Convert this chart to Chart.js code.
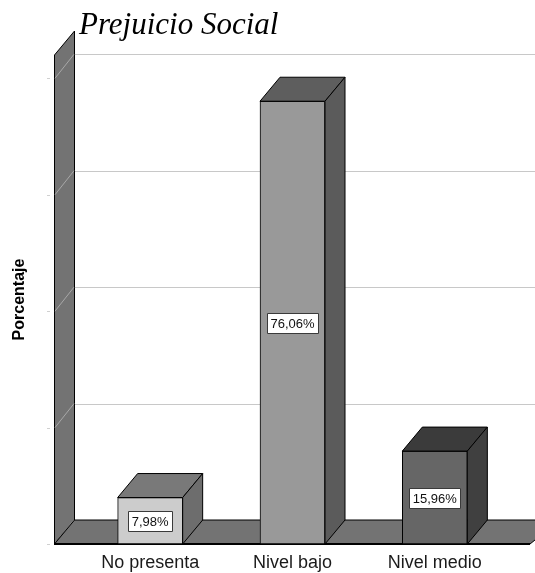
<!DOCTYPE html>
<html>
<head>
<meta charset="utf-8">
<title>Prejuicio Social</title>
<script src="https://cdn.jsdelivr.net/npm/chart.js@4.4.1/dist/chart.umd.min.js"></script>
<style>
  html, body { margin: 0; padding: 0; background: #ffffff; }
  #wrap { width: 535px; height: 573px; }
</style>
</head>
<body>
<div id="wrap"><canvas id="chart" width="535" height="573"></canvas></div>
<script>
// Categories and percentages of the "Prejuicio Social" distribution
const categories = ['No presenta', 'Nivel bajo', 'Nivel medio'];
const percentages = [7.98, 76.06, 15.96];
// Value axis: gridline positions (labels are not printed) and upper bound
const gridValues = [0, 20, 40, 60, 80];
const axisMax = 84;

// Shading for each bar: front, top and side faces
const frontColors = ['#cccccc', '#999999', '#666666'];
const topColors = ['#797979', '#5e5e5e', '#3b3b3b'];
const sideColors = ['#6d6d6d', '#5b5b5b', '#404040'];

// Oblique depth of the 3D effect
const DEPTH_X = 20;
const DEPTH_Y = 24;
const WALL_FILL = '#737373';
const SANS = '"Liberation Sans", Arial, Helvetica, sans-serif';
const SERIF = '"Liberation Serif", "Times New Roman", Times, serif';

function pctText(v) {
  return v.toFixed(2).replace('.', ',') + '%';
}

// Draws the 3D frame (back wall gridlines, left wall, floor) behind the bars
// and the top/side faces, value boxes and the chart title in front.
const frame3d = {
  id: 'frame3d',
  beforeDatasetsDraw(chart) {
    const { ctx, chartArea: area, scales } = chart;
    const ys = scales.y;
    const wallX = area.left - 25;
    const floorRight = area.right + 24;
    ctx.save();

    // Gridlines on the back plane
    ctx.strokeStyle = '#c8c8c8';
    ctx.lineWidth = 1;
    gridValues.forEach(v => {
      if (v === 0) return;
      const yb = Math.round(ys.getPixelForValue(v) - DEPTH_Y) + 0.5;
      ctx.beginPath();
      ctx.moveTo(wallX + DEPTH_X, yb);
      ctx.lineTo(chart.width, yb);
      ctx.stroke();
    });

    // Left wall
    ctx.beginPath();
    ctx.moveTo(wallX + 0.5, area.bottom);
    ctx.lineTo(wallX + 0.5, area.top);
    ctx.lineTo(wallX + DEPTH_X + 0.5, area.top - DEPTH_Y);
    ctx.lineTo(wallX + DEPTH_X + 0.5, area.bottom - DEPTH_Y);
    ctx.closePath();
    ctx.fillStyle = WALL_FILL;
    ctx.fill();
    ctx.strokeStyle = '#000000';
    ctx.stroke();

    // Gridlines continue diagonally across the wall; small ticks on its front edge
    gridValues.forEach(v => {
      const yf = ys.getPixelForValue(v);
      ctx.strokeStyle = '#a8a8a8';
      ctx.beginPath();
      ctx.moveTo(wallX + 1, yf);
      ctx.lineTo(wallX + DEPTH_X, yf - DEPTH_Y);
      ctx.stroke();
      ctx.strokeStyle = '#d0d0d0';
      ctx.beginPath();
      ctx.moveTo(wallX - 7, Math.round(yf) + 0.5);
      ctx.lineTo(wallX - 4, Math.round(yf) + 0.5);
      ctx.stroke();
    });

    // Floor
    ctx.beginPath();
    ctx.moveTo(wallX + 0.5, area.bottom);
    ctx.lineTo(wallX + DEPTH_X + 0.5, area.bottom - DEPTH_Y);
    ctx.lineTo(floorRight + DEPTH_X + 10, area.bottom - DEPTH_Y);
    ctx.lineTo(floorRight, area.bottom);
    ctx.closePath();
    ctx.fillStyle = WALL_FILL;
    ctx.fill();
    ctx.strokeStyle = '#000000';
    ctx.lineWidth = 1;
    ctx.stroke();
    ctx.lineWidth = 2;
    ctx.beginPath();
    ctx.moveTo(wallX, area.bottom);
    ctx.lineTo(floorRight, area.bottom);
    ctx.stroke();
    ctx.restore();
  },
  afterDatasetsDraw(chart) {
    const { ctx } = chart;
    const meta = chart.getDatasetMeta(0);
    ctx.save();
    meta.data.forEach((bar, i) => {
      const { x, y, base, width } = bar.getProps(['x', 'y', 'base', 'width'], true);
      const x0 = x - width / 2;
      const x1 = x + width / 2;
      ctx.lineWidth = 1;
      ctx.strokeStyle = '#000000';
      ctx.lineJoin = 'round';

      // Top face
      ctx.beginPath();
      ctx.moveTo(x0, y);
      ctx.lineTo(x0 + DEPTH_X, y - DEPTH_Y);
      ctx.lineTo(x1 + DEPTH_X, y - DEPTH_Y);
      ctx.lineTo(x1, y);
      ctx.closePath();
      ctx.fillStyle = topColors[i];
      ctx.fill();
      ctx.stroke();

      // Side face
      ctx.beginPath();
      ctx.moveTo(x1, y);
      ctx.lineTo(x1 + DEPTH_X, y - DEPTH_Y);
      ctx.lineTo(x1 + DEPTH_X, base - DEPTH_Y);
      ctx.lineTo(x1, base);
      ctx.closePath();
      ctx.fillStyle = sideColors[i];
      ctx.fill();
      ctx.stroke();

      // Value box on the front face
      const label = pctText(percentages[i]);
      ctx.font = '13px ' + SANS;
      const tw = ctx.measureText(label).width;
      const bw = Math.round(tw + 7);
      const bh = 20;
      const cy = (y + base) / 2;
      const bx = Math.round(x - bw / 2) + 0.5;
      const by = Math.round(cy - bh / 2) + 0.5;
      ctx.fillStyle = '#ffffff';
      ctx.fillRect(bx, by, bw, bh);
      ctx.strokeStyle = '#3a3a3a';
      ctx.strokeRect(bx, by, bw, bh);
      ctx.fillStyle = '#111111';
      ctx.textAlign = 'center';
      ctx.textBaseline = 'middle';
      ctx.fillText(label, x, by + bh / 2 + 0.5);
    });
    ctx.restore();
  },
  afterDraw(chart) {
    const { ctx } = chart;
    ctx.save();
    ctx.font = 'italic 31px ' + SERIF;
    ctx.fillStyle = '#000000';
    ctx.textAlign = 'left';
    ctx.textBaseline = 'alphabetic';
    ctx.fillText('Prejuicio Social', 79, 34);
    ctx.restore();
  }
};

new Chart(document.getElementById('chart'), {
  type: 'bar',
  data: {
    labels: categories,
    datasets: [{
      data: percentages,
      backgroundColor: frontColors,
      borderColor: '#000000',
      borderWidth: 1,
      borderSkipped: false,
      barThickness: 65
    }]
  },
  options: {
    responsive: false,
    animation: false,
    devicePixelRatio: 1,
    layout: { padding: { top: 55, left: 6, right: 29, bottom: 0 } },
    plugins: {
      legend: { display: false },
      tooltip: { enabled: false },
      title: { display: false }
    },
    scales: {
      x: {
        grid: { display: false, drawTicks: false },
        border: { display: false },
        ticks: {
          padding: 8,
          color: '#1a1a1a',
          font: { family: SANS, size: 18 }
        },
        afterFit(scale) { scale.height = 29; }
      },
      y: {
        min: 0,
        max: axisMax,
        grid: { display: false, drawTicks: false },
        border: { display: false },
        ticks: { display: false },
        title: {
          display: true,
          text: 'Porcentaje',
          color: '#000000',
          font: { family: SANS, size: 16, weight: 'bold' }
        },
        afterFit(scale) { scale.width = 73; }
      }
    }
  },
  plugins: [frame3d]
});
</script>
</body>
</html>
